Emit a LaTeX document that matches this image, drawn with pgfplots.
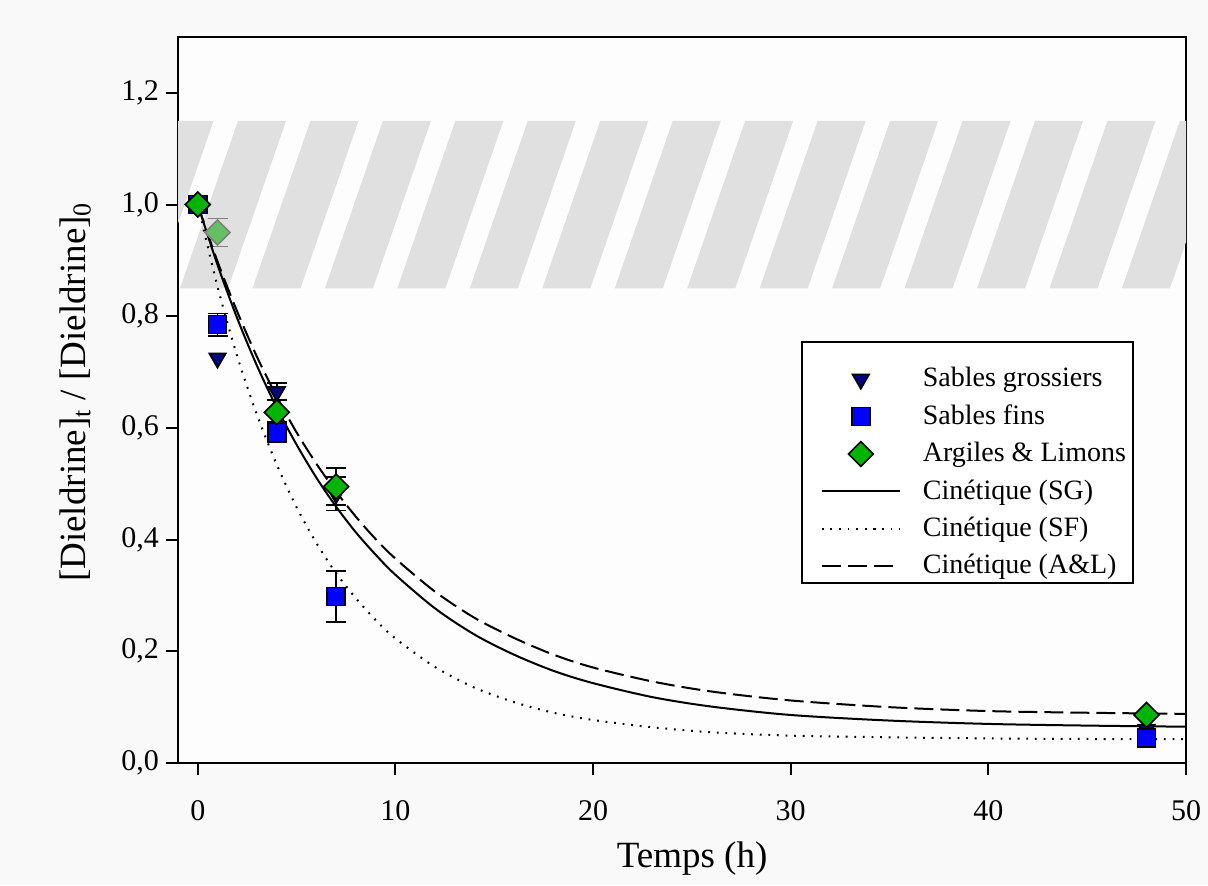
\documentclass[border=0pt]{standalone}
\usepackage{fontspec}
\setmainfont{Liberation Serif}
\usepackage{pgfplots}
\pgfplotsset{compat=1.18}
\definecolor{bg}{RGB}{249,249,249}
\definecolor{plotbg}{RGB}{253,253,253}
\definecolor{navyM}{RGB}{0,0,128}
\definecolor{blueM}{RGB}{0,0,255}
\definecolor{greenM}{RGB}{0,180,0}
\definecolor{stripe}{RGB}{224,224,224}
\definecolor{fadeG}{RGB}{100,190,100}
\begin{document}
\begin{tikzpicture}
\fill[bg] (-89pt,-61pt) rectangle (515pt,381.5pt);
\useasboundingbox (-89pt,-61pt) rectangle (515pt,381.5pt);
\begin{axis}[
  at={(0pt,0pt)}, anchor=south west,
  scale only axis, width=504pt, height=363pt,
  xmin=-1, xmax=50, ymin=0, ymax=1.3,
  axis background/.style={fill=plotbg},
  xtick={0,10,20,30,40,50},
  ytick={0,0.2,0.4,0.6,0.8,1.0,1.2},
  tick align=outside, xtick pos=bottom, ytick pos=left,
  major tick length=6pt,
  major tick style={line width=1pt, black},
  axis line style={line width=1pt},
  /pgf/number format/assume math mode=true,
  ticklabel style={font=\fontsize{15}{17}\selectfont},
  yticklabel style={/pgf/number format/.cd, fixed, fixed zerofill, precision=1, use comma},
  xticklabel style={yshift=-9pt},
  xlabel={Temps (h)},
  ylabel={[Dieldrine]\textsubscript{t} / [Dieldrine]\textsubscript{0}},
  label style={font=\fontsize{18.5}{21}\selectfont},
  xlabel style={at={(rel axis cs:0.51,-0.131)}, anchor=center},
  ylabel style={at={(rel axis cs:-0.102,0.511)}, anchor=center, rotate=0},
  legend image code/.code={\path (0pt,0pt) (45.5pt,0pt); \begin{pgfinterruptboundingbox}\draw[yshift=-5pt,mark repeat=2,mark phase=2,#1] plot coordinates {(6.5pt,0pt)(26pt,0pt)(45.5pt,0pt)};\end{pgfinterruptboundingbox}},
  legend cell align=left,
  legend style={at={(0.618,0.581)}, anchor=north west, draw=black, line width=0.9pt, fill=white,
    font=\fontsize{14}{17}\selectfont, inner xsep=3pt, inner ysep=4.2pt,
    nodes={inner sep=0.5pt, text height=17.7pt, text depth=0pt},
    /tikz/every odd column/.append style={column sep=10.5pt}},
]
% hatched band
\addplot[forget plot, fill=stripe, draw=none] coordinates {(-4.564,0.85)(-2.134,0.85)(0.801,1.15)(-1.629,1.15)} --cycle;
\addplot[forget plot, fill=stripe, draw=none] coordinates {(-0.898,0.85)(1.532,0.85)(4.467,1.15)(2.037,1.15)} --cycle;
\addplot[forget plot, fill=stripe, draw=none] coordinates {(2.768,0.85)(5.198,0.85)(8.133,1.15)(5.703,1.15)} --cycle;
\addplot[forget plot, fill=stripe, draw=none] coordinates {(6.434,0.85)(8.864,0.85)(11.799,1.15)(9.369,1.15)} --cycle;
\addplot[forget plot, fill=stripe, draw=none] coordinates {(10.100,0.85)(12.530,0.85)(15.465,1.15)(13.035,1.15)} --cycle;
\addplot[forget plot, fill=stripe, draw=none] coordinates {(13.766,0.85)(16.196,0.85)(19.131,1.15)(16.701,1.15)} --cycle;
\addplot[forget plot, fill=stripe, draw=none] coordinates {(17.432,0.85)(19.862,0.85)(22.797,1.15)(20.367,1.15)} --cycle;
\addplot[forget plot, fill=stripe, draw=none] coordinates {(21.098,0.85)(23.528,0.85)(26.463,1.15)(24.033,1.15)} --cycle;
\addplot[forget plot, fill=stripe, draw=none] coordinates {(24.764,0.85)(27.194,0.85)(30.129,1.15)(27.699,1.15)} --cycle;
\addplot[forget plot, fill=stripe, draw=none] coordinates {(28.430,0.85)(30.860,0.85)(33.795,1.15)(31.365,1.15)} --cycle;
\addplot[forget plot, fill=stripe, draw=none] coordinates {(32.096,0.85)(34.526,0.85)(37.461,1.15)(35.031,1.15)} --cycle;
\addplot[forget plot, fill=stripe, draw=none] coordinates {(35.762,0.85)(38.192,0.85)(41.127,1.15)(38.697,1.15)} --cycle;
\addplot[forget plot, fill=stripe, draw=none] coordinates {(39.428,0.85)(41.858,0.85)(44.793,1.15)(42.363,1.15)} --cycle;
\addplot[forget plot, fill=stripe, draw=none] coordinates {(43.094,0.85)(45.524,0.85)(48.459,1.15)(46.029,1.15)} --cycle;
\addplot[forget plot, fill=stripe, draw=none] coordinates {(46.760,0.85)(49.190,0.85)(52.125,1.15)(49.695,1.15)} --cycle;
% faded point (A&L, t=1)
\addplot[forget plot, only marks, mark=none, error bars/.cd, y dir=both, y explicit,
  error bar style={draw=gray, line width=0.9pt}, error mark options={rotate=90, mark size=5pt, line width=0.9pt, draw=gray}]
  coordinates {(1,0.95) +- (0,0.025)};
\addplot[forget plot, only marks, mark=square*, mark size=4.4pt, mark options={rotate=45, fill=fadeG, draw=gray, line width=0.8pt}]
  coordinates {(1,0.95)};
% error bars
\addplot[forget plot, only marks, mark=none, error bars/.cd, y dir=both, y explicit,
  error bar style={draw=black, line width=0.9pt}, error mark options={rotate=90, mark size=5pt, line width=0.9pt, draw=black}]
  coordinates {(4,0.665) +- (0,0.015) (7,0.482) +- (0,0.03)
               (1,0.785) +- (0,0.02) (4,0.592) +- (0,0.018) (7,0.298) +- (0,0.046)
               (7,0.495) +- (0,0.033)};
% data
\addplot[only marks, mark=triangle*, mark size=4.8pt, mark options={rotate=180, fill=navyM, draw=black, line width=0.8pt}]
  coordinates {(0,1.0)(1,0.725)(4,0.665)(7,0.482)(48,0.06)};
\addlegendentry{Sables grossiers}
\addplot[only marks, mark=square*, mark size=4.5pt, mark options={fill=blueM, draw=black, line width=0.8pt}]
  coordinates {(0,1.0)(1,0.785)(4,0.592)(7,0.298)(48,0.045)};
\addlegendentry{Sables fins}
\addplot[only marks, mark=square*, mark size=4.4pt, mark options={rotate=45, fill=greenM, draw=black, line width=0.8pt}]
  coordinates {(0,1.0)(4,0.628)(7,0.495)(48,0.086)};
\addlegendentry{Argiles \& Limons}
% kinetics
\addplot[black, line width=1pt, smooth, mark=none] coordinates {
 (0,1.000)(1,0.892)(2,0.796)(3,0.711)(4,0.636)(5,0.570)(6,0.511)(7,0.459)(8,0.413)(9,0.373)
 (10,0.337)(12,0.277)(14,0.230)(16,0.194)(18,0.165)(20,0.143)(23,0.118)(26,0.101)(30,0.086)
 (35,0.076)(40,0.070)(45,0.067)(50,0.065)};
\addlegendentry{Cinétique (SG)}
\addplot[black, line width=1pt, dash pattern=on 0.9pt off 3.4pt, smooth, mark=none] coordinates {
 (0,1.000)(1,0.853)(2,0.728)(3,0.623)(4,0.534)(5,0.458)(6,0.394)(7,0.340)(8,0.295)(9,0.256)
 (10,0.223)(12,0.172)(14,0.135)(16,0.109)(18,0.090)(20,0.077)(23,0.064)(26,0.055)(30,0.049)
 (35,0.046)(40,0.044)(45,0.043)(50,0.043)};
\addlegendentry{Cinétique (SF)}
\addplot[black, line width=1pt, dash pattern=on 9.5pt off 3.5pt, smooth, mark=none] coordinates {
 (0,1.000)(1,0.898)(2,0.808)(3,0.727)(4,0.656)(5,0.592)(6,0.536)(7,0.486)(8,0.441)(9,0.401)
 (10,0.366)(12,0.307)(14,0.260)(16,0.224)(18,0.194)(20,0.171)(23,0.146)(26,0.128)(30,0.112)
 (35,0.100)(40,0.093)(45,0.090)(50,0.088)};
\addlegendentry{Cinétique (A\&L)}
\end{axis}
\end{tikzpicture}
\end{document}
